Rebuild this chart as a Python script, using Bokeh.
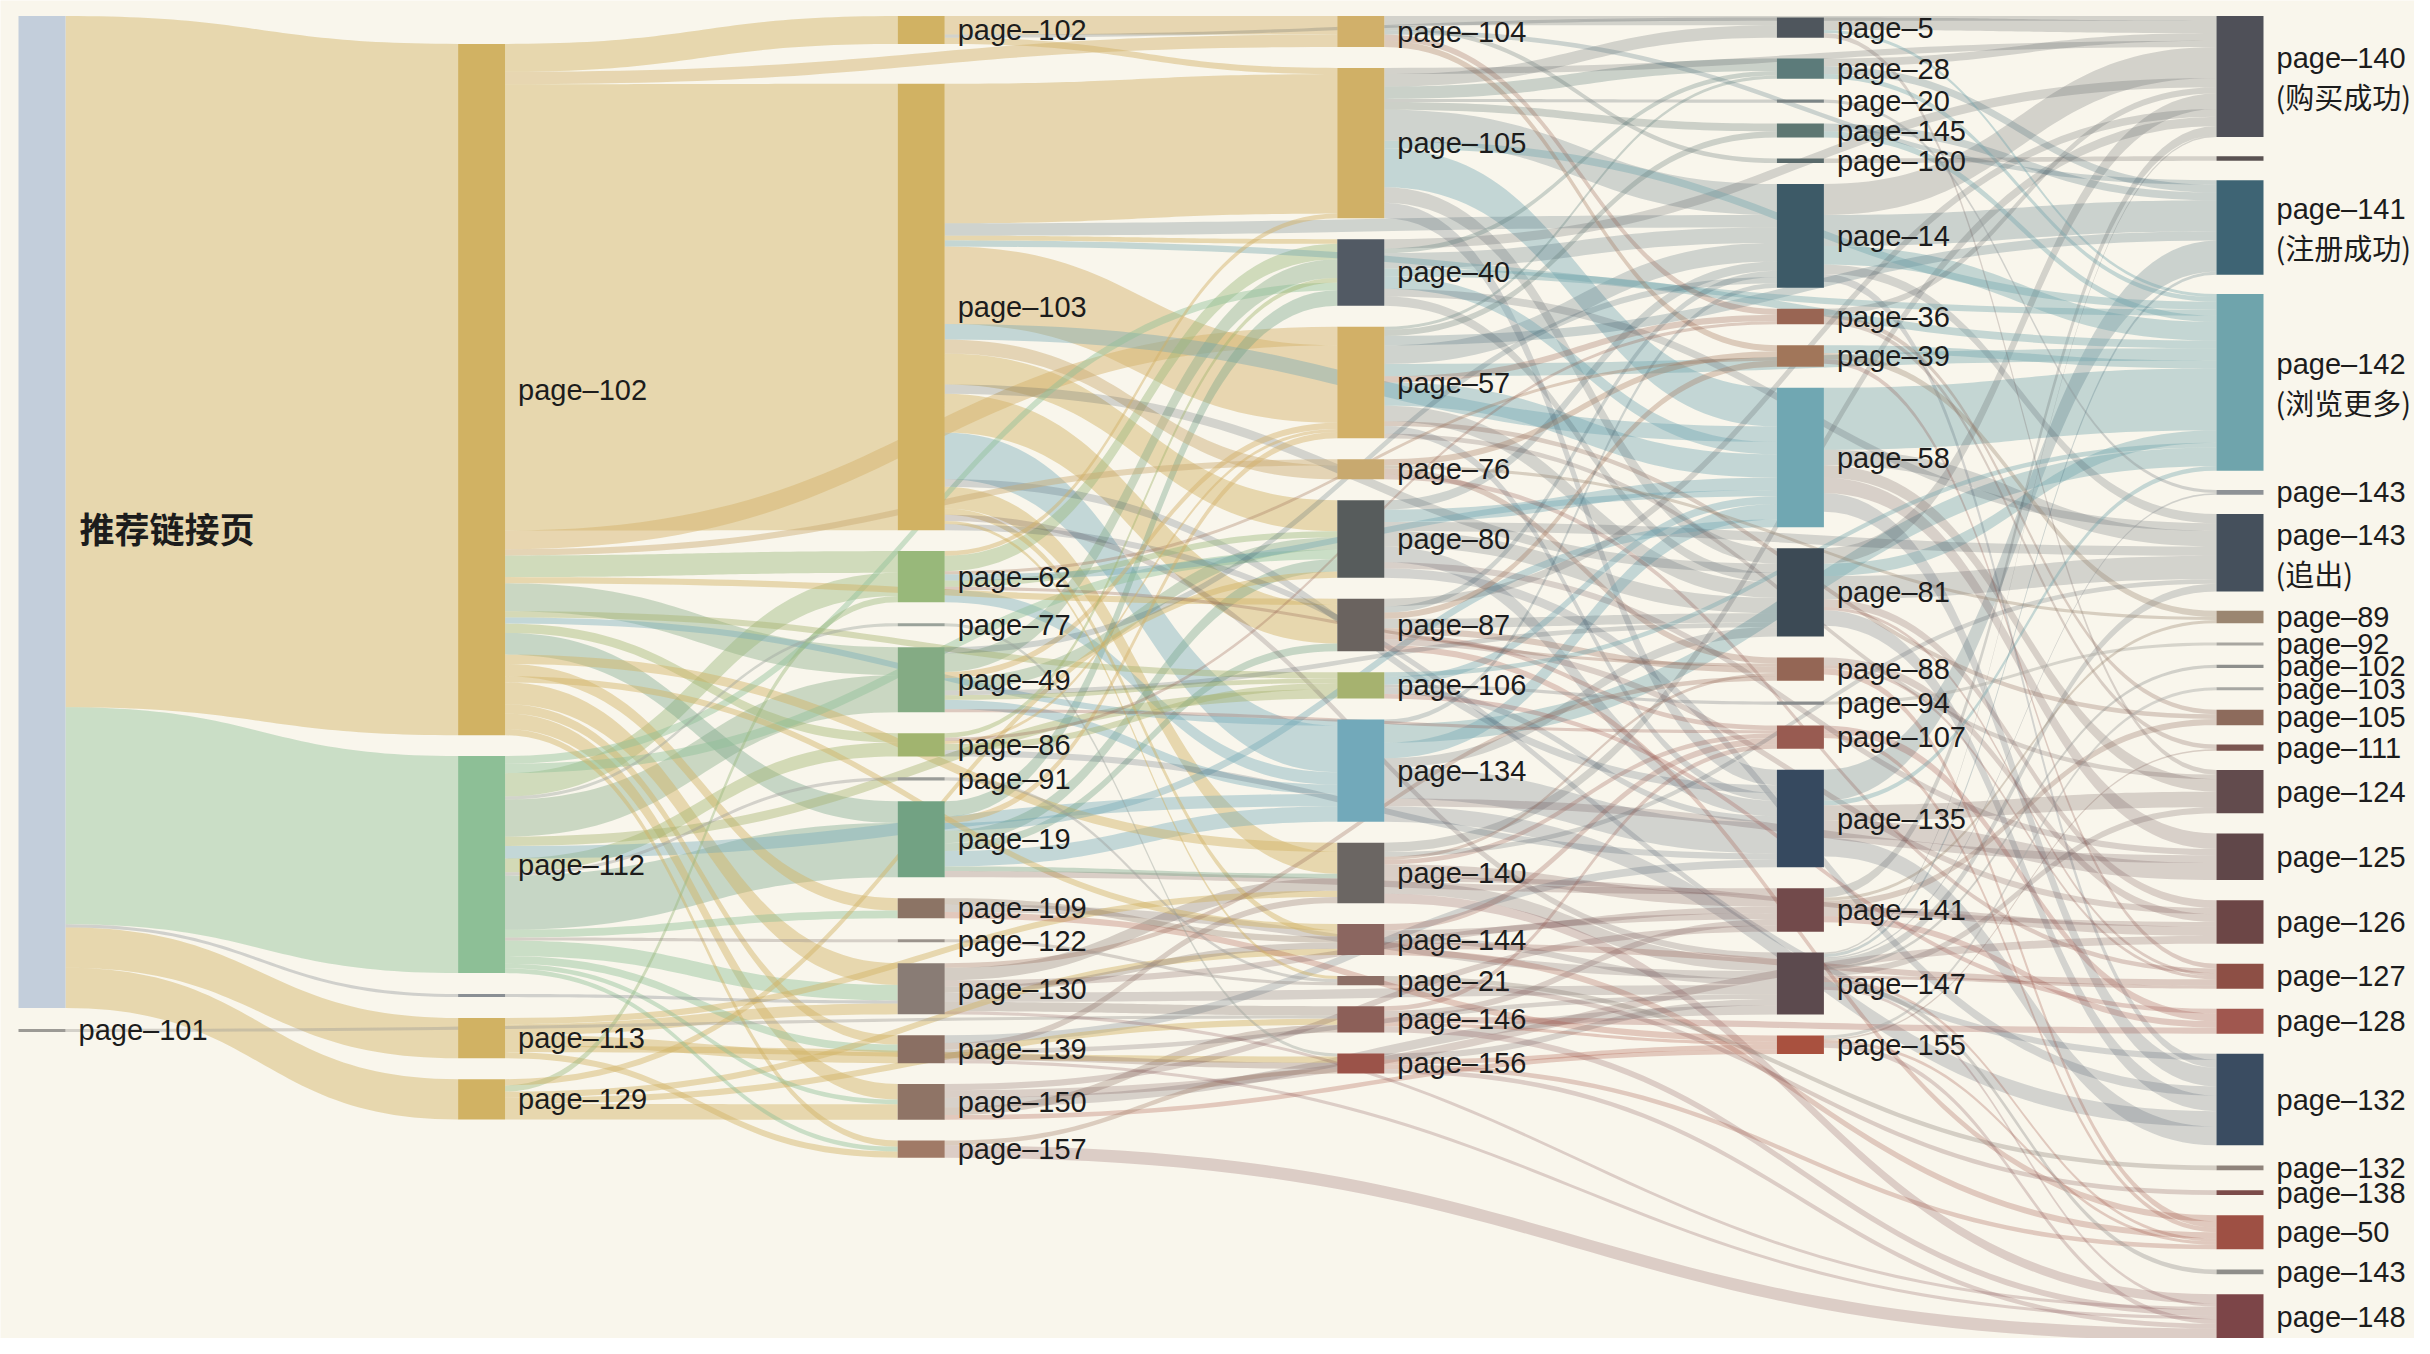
import numpy as np
from collections import defaultdict
from bokeh.plotting import figure
from bokeh.models import Range1d
from bokeh.core.properties import value
from bokeh.embed import file_html
from bokeh.resources import INLINE

# ---------------- data ----------------
col0_ids = ["c0_entry", "c0_101"]
col0_labels = ["推荐链接页", "page–101"]

col1_ids = ["c1_102", "c1_112", "c1_x", "c1_113", "c1_129"]
col1_labels = ["page–102", "page–112", "", "page–113", "page–129"]

col2_ids = ["c2_102", "c2_103", "c2_62", "c2_77", "c2_49", "c2_86", "c2_91", "c2_19",
            "c2_109", "c2_122", "c2_130", "c2_139", "c2_150", "c2_157"]
col2_labels = ["page–102", "page–103", "page–62", "page–77", "page–49", "page–86", "page–91",
               "page–19", "page–109", "page–122", "page–130", "page–139", "page–150", "page–157"]

col3_ids = ["c3_104", "c3_105", "c3_40", "c3_57", "c3_76", "c3_80", "c3_87", "c3_106",
            "c3_134", "c3_140", "c3_144", "c3_21", "c3_146", "c3_156"]
col3_labels = ["page–104", "page–105", "page–40", "page–57", "page–76", "page–80", "page–87",
               "page–106", "page–134", "page–140", "page–144", "page–21", "page–146", "page–156"]

col4_ids = ["c4_5", "c4_28", "c4_20", "c4_145", "c4_160", "c4_14", "c4_36", "c4_39", "c4_58",
            "c4_81", "c4_88", "c4_94", "c4_107", "c4_135", "c4_141", "c4_147", "c4_155"]
col4_labels = ["page–5", "page–28", "page–20", "page–145", "page–160", "page–14", "page–36",
               "page–39", "page–58", "page–81", "page–88", "page–94", "page–107", "page–135",
               "page–141", "page–147", "page–155"]

col5_ids = ["c5_140", "c5_y", "c5_141", "c5_142", "c5_143a", "c5_143", "c5_89", "c5_92",
            "c5_102", "c5_103", "c5_105", "c5_111", "c5_124", "c5_125", "c5_126", "c5_127",
            "c5_128", "c5_132", "c5_132b", "c5_138", "c5_50", "c5_143b", "c5_148"]
col5_labels = ["page–140\n(购买成功)", "", "page–141\n(注册成功)", "page–142\n(浏览更多)",
               "page–143", "page–143\n(追出)", "page–89", "page–92", "page–102", "page–103",
               "page–105", "page–111", "page–124", "page–125", "page–126", "page–127",
               "page–128", "page–132", "page–132", "page–138", "page–50", "page–143", "page–148"]

links_c0 = [
    ("c0_entry", "c1_102", 446), ("c0_entry", "c1_112", 140), ("c0_entry", "c1_x", 2),
    ("c0_entry", "c1_113", 26), ("c0_entry", "c1_129", 26), ("c0_101", "c3_146", 2)]

links_c1 = [
    ("c1_102", "c2_102", 18), ("c1_102", "c2_103", 288), ("c1_102", "c3_104", 8),
    ("c1_102", "c2_62", 14), ("c1_102", "c2_49", 18), ("c1_102", "c2_86", 6),
    ("c1_102", "c2_19", 14), ("c1_102", "c2_109", 8), ("c1_102", "c2_130", 14),
    ("c1_102", "c2_139", 6), ("c1_102", "c2_150", 10), ("c1_102", "c2_157", 4),
    ("c1_102", "c3_57", 12), ("c1_102", "c3_76", 4), ("c1_102", "c3_106", 4),
    ("c1_102", "c3_140", 6), ("c1_102", "c3_144", 4), ("c1_102", "c3_134", 4),
    ("c1_102", "c3_87", 4),
    ("c1_112", "c2_62", 15), ("c1_112", "c2_77", 2), ("c1_112", "c2_49", 24),
    ("c1_112", "c2_86", 9), ("c1_112", "c2_91", 2), ("c1_112", "c2_19", 35),
    ("c1_112", "c2_109", 5), ("c1_112", "c2_122", 2), ("c1_112", "c2_130", 10),
    ("c1_112", "c2_139", 5), ("c1_112", "c2_150", 3), ("c1_112", "c2_157", 3),
    ("c1_112", "c3_40", 5), ("c1_112", "c3_106", 6), ("c1_112", "c3_134", 8),
    ("c1_112", "c3_80", 6),
    ("c1_x", "c2_130", 2),
    ("c1_113", "c2_130", 7), ("c1_113", "c2_139", 7), ("c1_113", "c2_157", 4),
    ("c1_113", "c3_140", 4), ("c1_113", "c3_156", 4),
    ("c1_129", "c2_62", 4), ("c1_129", "c2_150", 10), ("c1_129", "c3_80", 4),
    ("c1_129", "c3_144", 4), ("c1_129", "c3_146", 4)]

links_c2 = [
    ("c2_102", "c3_104", 12), ("c2_102", "c3_105", 4), ("c2_102", "c4_5", 2),
    ("c2_103", "c3_105", 90), ("c2_103", "c3_40", 3), ("c2_103", "c3_57", 50),
    ("c2_103", "c3_76", 9), ("c2_103", "c3_80", 20), ("c2_103", "c3_87", 25),
    ("c2_103", "c3_134", 30), ("c2_103", "c3_140", 14), ("c2_103", "c3_144", 4),
    ("c2_103", "c3_21", 2), ("c2_103", "c4_58", 10), ("c2_103", "c4_14", 8),
    ("c2_103", "c4_81", 6), ("c2_103", "c4_135", 5), ("c2_103", "c4_147", 4),
    ("c2_103", "c5_142", 4), ("c2_103", "c5_132", 4),
    ("c2_62", "c3_105", 3), ("c2_62", "c3_40", 10), ("c2_62", "c3_80", 4),
    ("c2_62", "c3_134", 8), ("c2_62", "c4_58", 4), ("c2_62", "c4_39", 2), ("c2_62", "c4_88", 2),
    ("c2_77", "c3_156", 2),
    ("c2_49", "c3_40", 12), ("c2_49", "c3_57", 4), ("c2_49", "c3_80", 8), ("c2_49", "c3_106", 3),
    ("c2_49", "c3_134", 6), ("c2_49", "c4_14", 4), ("c2_49", "c4_81", 3), ("c2_49", "c4_107", 2),
    ("c2_86", "c3_40", 3), ("c2_86", "c3_57", 2), ("c2_86", "c3_106", 4), ("c2_86", "c4_135", 4),
    ("c2_86", "c4_36", 2),
    ("c2_91", "c3_21", 2),
    ("c2_19", "c3_40", 10), ("c2_19", "c3_57", 4), ("c2_19", "c3_80", 8), ("c2_19", "c3_87", 5),
    ("c2_19", "c3_134", 10), ("c2_19", "c3_140", 3), ("c2_19", "c4_58", 5), ("c2_19", "c4_141", 4),
    ("c2_109", "c3_144", 4), ("c2_109", "c4_147", 5), ("c2_109", "c4_155", 4),
    ("c2_122", "c3_21", 2),
    ("c2_130", "c3_140", 8), ("c2_130", "c3_144", 4), ("c2_130", "c3_146", 6),
    ("c2_130", "c4_147", 6), ("c2_130", "c4_141", 4), ("c2_130", "c4_88", 3), ("c2_130", "c5_148", 2),
    ("c2_139", "c3_140", 4), ("c2_139", "c3_156", 4), ("c2_139", "c4_135", 5),
    ("c2_139", "c4_147", 3), ("c2_139", "c5_148", 2),
    ("c2_150", "c3_146", 5), ("c2_150", "c4_147", 6), ("c2_150", "c4_141", 4),
    ("c2_150", "c4_155", 3), ("c2_150", "c5_126", 5),
    ("c2_157", "c3_156", 3), ("c2_157", "c5_148", 8)]

links_c3 = [
    ("c3_104", "c4_5", 3), ("c3_104", "c4_160", 3), ("c3_104", "c4_36", 4), ("c3_104", "c4_39", 4),
    ("c3_104", "c5_140", 3), ("c3_104", "c5_141", 3),
    ("c3_105", "c4_5", 8), ("c3_105", "c4_28", 8), ("c3_105", "c4_20", 2), ("c3_105", "c4_145", 5),
    ("c3_105", "c4_14", 20), ("c3_105", "c4_58", 25), ("c3_105", "c4_81", 10),
    ("c3_105", "c4_135", 10), ("c3_105", "c5_142", 5), ("c3_105", "c5_140", 4),
    ("c3_40", "c4_28", 3), ("c3_40", "c4_14", 10), ("c3_40", "c4_58", 8), ("c3_40", "c4_81", 6),
    ("c3_40", "c5_140", 6), ("c3_40", "c5_142", 5), ("c3_40", "c5_143", 5),
    ("c3_57", "c4_28", 2), ("c3_57", "c4_145", 4), ("c3_57", "c4_14", 12), ("c3_57", "c4_36", 4),
    ("c3_57", "c4_58", 15), ("c3_57", "c4_81", 10), ("c3_57", "c4_135", 5), ("c3_57", "c5_142", 8),
    ("c3_57", "c5_141", 6), ("c3_57", "c5_124", 3), ("c3_57", "c5_105", 3),
    ("c3_76", "c4_39", 4), ("c3_76", "c4_88", 4), ("c3_76", "c5_127", 3), ("c3_76", "c5_89", 2),
    ("c3_80", "c4_14", 6), ("c3_80", "c4_58", 8), ("c3_80", "c4_81", 10), ("c3_80", "c4_135", 10),
    ("c3_80", "c5_143", 6), ("c3_80", "c5_132", 6), ("c3_80", "c5_125", 4),
    ("c3_87", "c4_14", 4), ("c3_87", "c4_39", 4), ("c3_87", "c4_81", 6), ("c3_87", "c4_88", 4),
    ("c3_87", "c4_107", 3), ("c3_87", "c5_140", 5), ("c3_87", "c5_126", 4), ("c3_87", "c5_50", 4),
    ("c3_106", "c4_58", 5), ("c3_106", "c4_94", 2), ("c3_106", "c4_135", 4),
    ("c3_106", "c5_142", 3), ("c3_106", "c5_128", 3),
    ("c3_134", "c4_14", 3), ("c3_134", "c4_58", 10), ("c3_134", "c4_81", 6),
    ("c3_134", "c4_135", 20), ("c3_134", "c5_142", 12), ("c3_134", "c5_132", 10),
    ("c3_134", "c5_125", 5),
    ("c3_140", "c4_88", 2), ("c3_140", "c4_107", 3), ("c3_140", "c4_141", 8),
    ("c3_140", "c4_147", 8), ("c3_140", "c5_140", 6), ("c3_140", "c5_148", 6),
    ("c3_140", "c5_126", 3), ("c3_140", "c5_143", 3),
    ("c3_144", "c4_107", 4), ("c3_144", "c4_141", 4), ("c3_144", "c4_147", 4),
    ("c3_144", "c5_50", 4), ("c3_144", "c5_127", 4),
    ("c3_21", "c5_132b", 3), ("c3_21", "c5_138", 3),
    ("c3_146", "c4_107", 3), ("c3_146", "c4_141", 4), ("c3_146", "c4_155", 2),
    ("c3_146", "c5_148", 4), ("c3_146", "c5_128", 4),
    ("c3_156", "c4_147", 4), ("c3_156", "c4_155", 3), ("c3_156", "c5_50", 3), ("c3_156", "c5_148", 3)]

links_c4 = [
    ("c4_5", "c5_140", 8), ("c4_5", "c5_124", 3), ("c4_5", "c5_142", 2),
    ("c4_28", "c5_140", 5), ("c4_28", "c5_141", 5), ("c4_28", "c5_142", 3),
    ("c4_20", "c5_143a", 2),
    ("c4_145", "c5_141", 5), ("c4_145", "c5_142", 4),
    ("c4_160", "c5_y", 3),
    ("c4_14", "c5_140", 20), ("c4_14", "c5_141", 20), ("c4_14", "c5_142", 12),
    ("c4_14", "c5_143", 6), ("c4_14", "c5_132", 5),
    ("c4_36", "c5_140", 4), ("c4_36", "c5_105", 3), ("c4_36", "c5_111", 3),
    ("c4_39", "c5_142", 5), ("c4_39", "c5_89", 4), ("c4_39", "c5_127", 3),
    ("c4_58", "c5_142", 40), ("c4_58", "c5_143", 10), ("c4_58", "c5_124", 8),
    ("c4_58", "c5_125", 10), ("c4_58", "c5_132", 12),
    ("c4_81", "c5_140", 10), ("c4_81", "c5_142", 8), ("c4_81", "c5_143", 15),
    ("c4_81", "c5_126", 5), ("c4_81", "c5_132", 10), ("c4_81", "c5_127", 2),
    ("c4_88", "c5_126", 5), ("c4_88", "c5_127", 2), ("c4_88", "c5_50", 4),
    ("c4_94", "c5_92", 2),
    ("c4_107", "c5_128", 5), ("c4_107", "c5_50", 3),
    ("c4_135", "c5_141", 20), ("c4_135", "c5_142", 3), ("c4_135", "c5_124", 10),
    ("c4_135", "c5_125", 11), ("c4_135", "c5_132", 12),
    ("c4_141", "c5_140", 6), ("c4_141", "c5_126", 6), ("c4_141", "c5_128", 4),
    ("c4_141", "c5_105", 4), ("c4_141", "c5_89", 2),
    ("c4_147", "c5_140", 1), ("c4_147", "c5_141", 2), ("c4_147", "c5_143a", 1),
    ("c4_147", "c5_102", 2), ("c4_147", "c5_124", 4), ("c4_147", "c5_50", 2),
    ("c4_147", "c5_143b", 3), ("c4_147", "c5_148", 2), ("c4_147", "c5_127", 2),
    ("c4_147", "c5_143", 5),
    ("c4_155", "c5_103", 2), ("c4_155", "c5_111", 1), ("c4_155", "c5_50", 2), ("c4_155", "c5_148", 3)]

# ---------------- styles ----------------
node_colors = {
    "c0_entry": "#c3cedb", "c0_101": "#9c9a95",
    "c1_102": "#d1b263", "c1_112": "#8dbf96", "c1_x": "#8a8f94", "c1_113": "#d1b263", "c1_129": "#d1b263",
    "c2_102": "#d1b263", "c2_103": "#d1b263", "c2_62": "#98b87a", "c2_77": "#9aa29a",
    "c2_49": "#84ab84", "c2_86": "#a1b46f", "c2_91": "#9a9c98", "c2_19": "#72a283",
    "c2_109": "#8c7465", "c2_122": "#9b938c", "c2_130": "#897c75", "c2_139": "#8a6f63",
    "c2_150": "#8f7466", "c2_157": "#a07a66",
    "c3_104": "#d1b06a", "c3_105": "#d0b066", "c3_40": "#525a64", "c3_57": "#d2b067",
    "c3_76": "#c8a96f", "c3_80": "#575c5c", "c3_87": "#6a635f", "c3_106": "#a6b26f",
    "c3_134": "#72a9ba", "c3_140": "#6b6663", "c3_144": "#8b6660", "c3_21": "#8d6f66",
    "c3_146": "#8c5f58", "c3_156": "#9b5349",
    "c4_5": "#4f565d", "c4_28": "#5c7b7a", "c4_20": "#7c8586", "c4_145": "#5e7772",
    "c4_160": "#5a6a6b", "c4_14": "#3d5a67", "c4_36": "#996553", "c4_39": "#a1765a",
    "c4_58": "#70a7b2", "c4_81": "#3c4a55", "c4_88": "#946655", "c4_94": "#8a8d8e",
    "c4_107": "#985b51", "c4_135": "#36495f", "c4_141": "#724a4b", "c4_147": "#5c4a4e",
    "c4_155": "#a9513f",
    "c5_140": "#4f5058", "c5_y": "#5a5252", "c5_141": "#3e6474", "c5_142": "#6fa4ac",
    "c5_143a": "#8e9296", "c5_143": "#45505c", "c5_89": "#9b8671", "c5_92": "#a8a6a0",
    "c5_102": "#8e8f8c", "c5_103": "#a7a7a3", "c5_105": "#8d6b5c", "c5_111": "#7a5550",
    "c5_124": "#624b4d", "c5_125": "#604749", "c5_126": "#6c4646", "c5_127": "#8d4f45",
    "c5_128": "#a0574f", "c5_132": "#3a4c61", "c5_132b": "#8f837b", "c5_138": "#7c4c4a",
    "c5_50": "#9e5044", "c5_143b": "#8f8e8a", "c5_148": "#7c4548",
}
BG = "#f9f6ec"
TEXT = "#1c1c1c"

# ---------------- layout ----------------
columns = [col0_ids, col1_ids, col2_ids, col3_ids, col4_ids, col5_ids]
col_labels = [col0_labels, col1_labels, col2_labels, col3_labels, col4_labels, col5_labels]
links = links_c0 + links_c1 + links_c2 + links_c3 + links_c4

FIG_W, FIG_H = 2414, 1338
KY = 1.55
X_START, DX, NODE_W = 18.0, 439.6, 47.0
COL_TOP = [15.5, 43.4, 15.5, 15.5, 17.0, 15.5]
PAD = [20.9, 20.9, 20.9, 20.9, 20.9, 19.3]
EXTRA_GAP = {"c2_102": 19.0}
for _n in ["c5_124", "c5_125", "c5_126", "c5_127", "c5_128", "c5_132", "c5_132b",
           "c5_138", "c5_50", "c5_143b"]:
    EXTRA_GAP[_n] = 0.9

node_col = {n: ci for ci, col in enumerate(columns) for n in col}
inflow, outflow = defaultdict(float), defaultdict(float)
for s, t, v in links:
    outflow[s] += v
    inflow[t] += v

val, y0, y1, x0, x1 = {}, {}, {}, {}, {}
for ci, col in enumerate(columns):
    y = COL_TOP[ci]
    for n in col:
        val[n] = max(inflow[n], outflow[n])
        y0[n] = y
        y1[n] = y + val[n] * KY
        y = y1[n] + PAD[ci] + EXTRA_GAP.get(n, 0.0)
        x0[n] = X_START + ci * DX
        x1[n] = x0[n] + NODE_W

src_links, tgt_links = defaultdict(list), defaultdict(list)
for i, (s, t, v) in enumerate(links):
    src_links[s].append(i)
    tgt_links[t].append(i)
sy, ty = {}, {}
for n, li in src_links.items():
    li.sort(key=lambda i: (y0[links[i][1]], i))
    y = y0[n]
    for i in li:
        sy[i] = y
        y += links[i][2] * KY
for n, li in tgt_links.items():
    li.sort(key=lambda i: (y0[links[i][0]], i))
    y = y0[n]
    for i in li:
        ty[i] = y
        y += links[i][2] * KY


def lum(hx):
    r, g, b = int(hx[1:3], 16), int(hx[3:5], 16), int(hx[5:7], 16)
    return (0.299 * r + 0.587 * g + 0.114 * b) / 255.0


def link_color(s, t):
    ct = node_colors[t]
    if node_col[t] in (2, 3) and lum(ct) < 0.55:
        return node_colors[s]
    return ct


tt = np.linspace(0, 1, 50)
ease = 3 * tt ** 2 - 2 * tt ** 3
lxs, lys, lcol, lalpha = [], [], [], []
order = sorted(range(len(links)), key=lambda i: -links[i][2])
for i in order:
    s, t, v = links[i]
    xa, xb = x1[s], x0[t]
    xm = (xa + xb) / 2
    xc = xa * (1 - tt) ** 3 + xm * 3 * tt * (1 - tt) + xb * tt ** 3
    w = v * KY
    top = sy[i] + (ty[i] - sy[i]) * ease
    bot = top + w
    lxs.append(np.concatenate([xc, xc[::-1]]).tolist())
    lys.append(np.concatenate([top, bot[::-1]]).tolist())
    c = link_color(s, t)
    lcol.append(c)
    lalpha.append(float(np.clip(0.24 + (lum(c) - 0.35) * 0.62, 0.2, 0.47)))

p = figure(width=FIG_W, height=FIG_H, x_range=Range1d(0, FIG_W), y_range=Range1d(FIG_H, 0),
           output_backend="svg", toolbar_location=None, min_border=0,
           x_axis_location=None, y_axis_location=None)
p.grid.visible = False
p.outline_line_color = None
p.background_fill_color = BG
p.border_fill_color = BG

p.patches(xs=lxs, ys=lys, fill_color=lcol, fill_alpha=lalpha, line_color=None)

all_nodes = [n for col in columns for n in col]
p.quad(left=[x0[n] for n in all_nodes], right=[x1[n] for n in all_nodes],
       top=[y0[n] for n in all_nodes], bottom=[max(y1[n], y0[n] + 1.5) for n in all_nodes],
       fill_color=[node_colors[n] for n in all_nodes], line_color=None)

LINE_H = 36
FONT_PX = 29
lat_x, lat_y, lat_t = [], [], []
cjk_x, cjk_y, cjk_t = [], [], []
for ci, col in enumerate(columns):
    for n, lab in zip(col, col_labels[ci]):
        if not lab or n == "c0_entry":
            continue
        lines = lab.split("\n")
        cy = (y0[n] + y1[n]) / 2
        for k, ln in enumerate(lines):
            yy = cy + (k - (len(lines) - 1) / 2) * LINE_H
            yy = min(yy, FIG_H - FONT_PX * 0.75)
            if ln.startswith("("):
                cjk_x.append(x1[n] + 12)
                cjk_y.append(yy + 2)
                cjk_t.append(ln)
            else:
                lat_x.append(x1[n] + 13)
                lat_y.append(yy)
                lat_t.append(ln)
p.text(x=lat_x, y=lat_y, text=lat_t, text_baseline="middle", text_align="left",
       text_font=value("Liberation Sans"), text_font_size=f"{FONT_PX}px", text_color=TEXT)
p.text(x=cjk_x, y=cjk_y, text=cjk_t, text_baseline="middle", text_align="left",
       text_font=value("Noto Sans CJK SC"), text_font_size=f"{FONT_PX}px", text_color=TEXT)

n0 = "c0_entry"
p.text(x=[x1[n0] + 14], y=[(y0[n0] + y1[n0]) / 2 + 15], text=[col0_labels[0]],
       text_baseline="middle", text_align="left", text_font=value("Noto Sans CJK SC"),
       text_font_size="35px", text_font_style="bold", text_color=TEXT)

open("out.html", "w").write(file_html(p, INLINE))
